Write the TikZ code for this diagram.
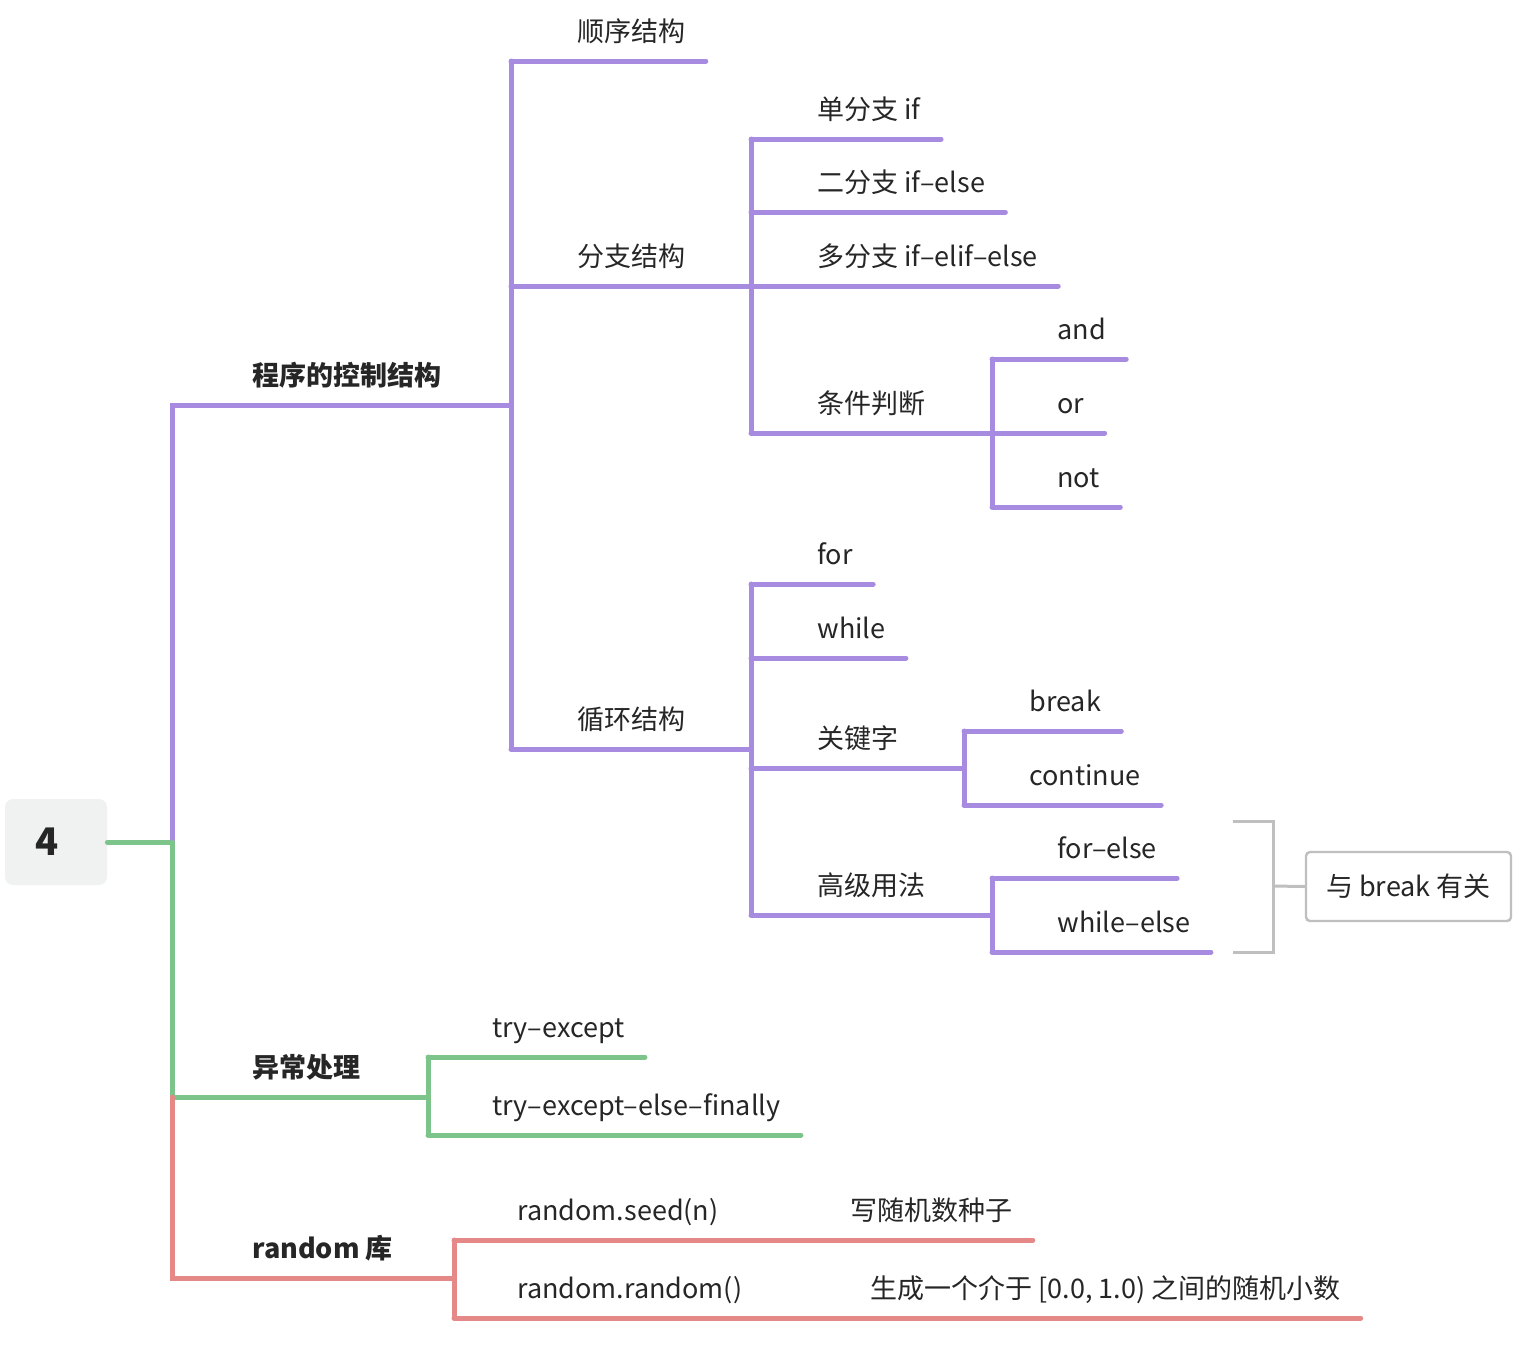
\documentclass[tikz,border=0pt]{standalone}
\usepackage{fontspec}
\setmainfont{Noto Sans CJK SC}
\usepackage{xcolor}
\usepackage{tikz}
\usetikzlibrary{positioning,calc}

\definecolor{ink}{HTML}{262626}
\definecolor{purp}{HTML}{A68BE1}
\definecolor{grn}{HTML}{7CC48A}
\definecolor{rd}{HTML}{E48888}
\definecolor{gry}{HTML}{BFBFBF}
\definecolor{rootfill}{HTML}{F0F1F1}

\begin{document}
\begin{tikzpicture}[
    x=0.5pt, y=-0.5pt,
    topic/.style={anchor=south west, inner xsep=10pt, inner ysep=6.4pt, text height=10pt, text depth=3pt, font=\fontsize{13.5}{16}\selectfont, text=ink},
    main/.style={topic, font=\fontsize{13.5}{16}\selectfont\bfseries},
    rootbox/.style={rectangle, rounded corners=4pt, fill=rootfill, minimum width=51pt, minimum height=43pt, font=\fontsize{19}{22}\selectfont\bfseries, text=ink},
    notebox/.style={rectangle, rounded corners=2pt, draw=gry, line width=1.2pt, fill=white, minimum width=102.5pt, minimum height=34.5pt, font=\fontsize{13.5}{16}\selectfont, text=ink},
    pl/.style={draw=purp, line width=2.5pt, line cap=round},
    gl/.style={draw=grn, line width=2.5pt, line cap=round},
    rl/.style={draw=rd, line width=2.5pt, line cap=round},
    sumline/.style={draw=gry, line width=1.5pt}
]
\useasboundingbox (0,0) rectangle (1518,1362);

% Root and first level
\node[rootbox] (root) at (56,842) {4\kern9pt};
\coordinate (sR) at (172,842);
\node[main] (ctl) at (232,405) {程序的控制结构};
\node[main] (exc) at (232,1097) {异常处理};
\node[main] (rnd) at (232,1278) {random 库};

\draw[gl] (root.east) -- (sR);
\draw[pl] (sR) -- (sR |- ctl.south) -- (511,405) coordinate (sC);
\draw[gl] (sR) -- (sR |- exc.south) -- (428,1097) coordinate (sE);
\draw[rl] (sR |- exc.south) -- (sR |- rnd.south) -- (454,1278) coordinate (sRn);

% Control structures
\node[topic] (seq) at (557,61) {顺序结构};
\node[topic] (br) at (557,286) {分支结构};
\node[topic] (lp) at (557,749) {循环结构};
\coordinate (sB) at (751,286);
\coordinate (sL) at (751,749);

\draw[pl] (sC |- seq.south) -- (sC |- lp.south);
\draw[pl] (sC |- seq.south) -- (seq.south east);
\draw[pl] (sC |- br.south) -- (sB);
\draw[pl] (sC |- lp.south) -- (sL);

% Branches
\node[topic] (b1) at (797,139) {单分支 if};
\node[topic] (b2) at (797,212) {二分支 if–else};
\node[topic] (b3) at (797,286) {多分支 if–elif–else};
\node[topic] (cond) at (797,433) {条件判断};
\coordinate (sJ) at (992,433);

\draw[pl] (sB |- b1.south) -- (sB |- cond.south);
\foreach \n in {b1,b2,b3}
    \draw[pl] (sB |- \n.south) -- (\n.south east);
\draw[pl] (sB |- cond.south) -- (sJ);

\node[topic] (and) at (1037,359) {and};
\node[topic] (or) at (1037,433) {or};
\node[topic] (not) at (1037,507) {not};
\draw[pl] (sJ |- and.south) -- (sJ |- not.south);
\foreach \n in {and,or,not}
    \draw[pl] (sJ |- \n.south) -- (\n.south east);

% Loops
\node[topic] (for) at (797,584) {for};
\node[topic] (while) at (797,658) {while};
\node[topic] (kw) at (797,768) {关键字};
\node[topic] (adv) at (797,915) {高级用法};
\coordinate (sK) at (964,768);
\coordinate (sG) at (992,915);

\draw[pl] (sL |- for.south) -- (sL |- adv.south);
\foreach \n in {for,while}
    \draw[pl] (sL |- \n.south) -- (\n.south east);
\draw[pl] (sL |- kw.south) -- (sK);
\draw[pl] (sL |- adv.south) -- (sG);

\node[topic] (brk) at (1009,731) {break};
\node[topic] (cont) at (1009,805) {continue};
\draw[pl] (sK |- brk.south) -- (sK |- cont.south);
\foreach \n in {brk,cont}
    \draw[pl] (sK |- \n.south) -- (\n.south east);

\node[topic] (fe) at (1037,878) {for–else};
\node[topic] (we) at (1037,952) {while–else};
\draw[pl] (sG |- fe.south) -- (sG |- we.south);
\foreach \n in {fe,we}
    \draw[pl] (sG |- \n.south) -- (\n.south east);

% Summary
\coordinate (bt) at (1233,821);
\coordinate (bb) at (1233,952);
\coordinate (bm) at (1273,886);
\node[notebox] (note) at (1408.5,886.5) {与 break 有关};
\draw[sumline] (bt) -| (bm) |- (bb);
\draw[sumline] (bm) -- (note.west);

% Exceptions
\node[topic] (te) at (472,1057) {try–except};
\node[topic] (tf) at (472,1135) {try–except–else–finally};
\draw[gl] (sE |- te.south) -- (sE |- tf.south);
\foreach \n in {te,tf}
    \draw[gl] (sE |- \n.south) -- (\n.south east);

% random
\node[topic] (seed) at (497,1240) {random.seed(n)};
\node[topic] (seedc) at (830,1240) {写随机数种子};
\node[topic] (rand) at (497,1318) {random.random()};
\node[topic] (randc) at (850,1318) {生成一个介于 [0.0, 1.0) 之间的随机小数};
\draw[rl] (sRn |- seed.south) -- (sRn |- rand.south);
\draw[rl] (sRn |- seed.south) -- (seed.south east) -- (seedc.south east);
\draw[rl] (sRn |- rand.south) -- (rand.south east) -- (randc.south east);
\end{tikzpicture}
\end{document}
